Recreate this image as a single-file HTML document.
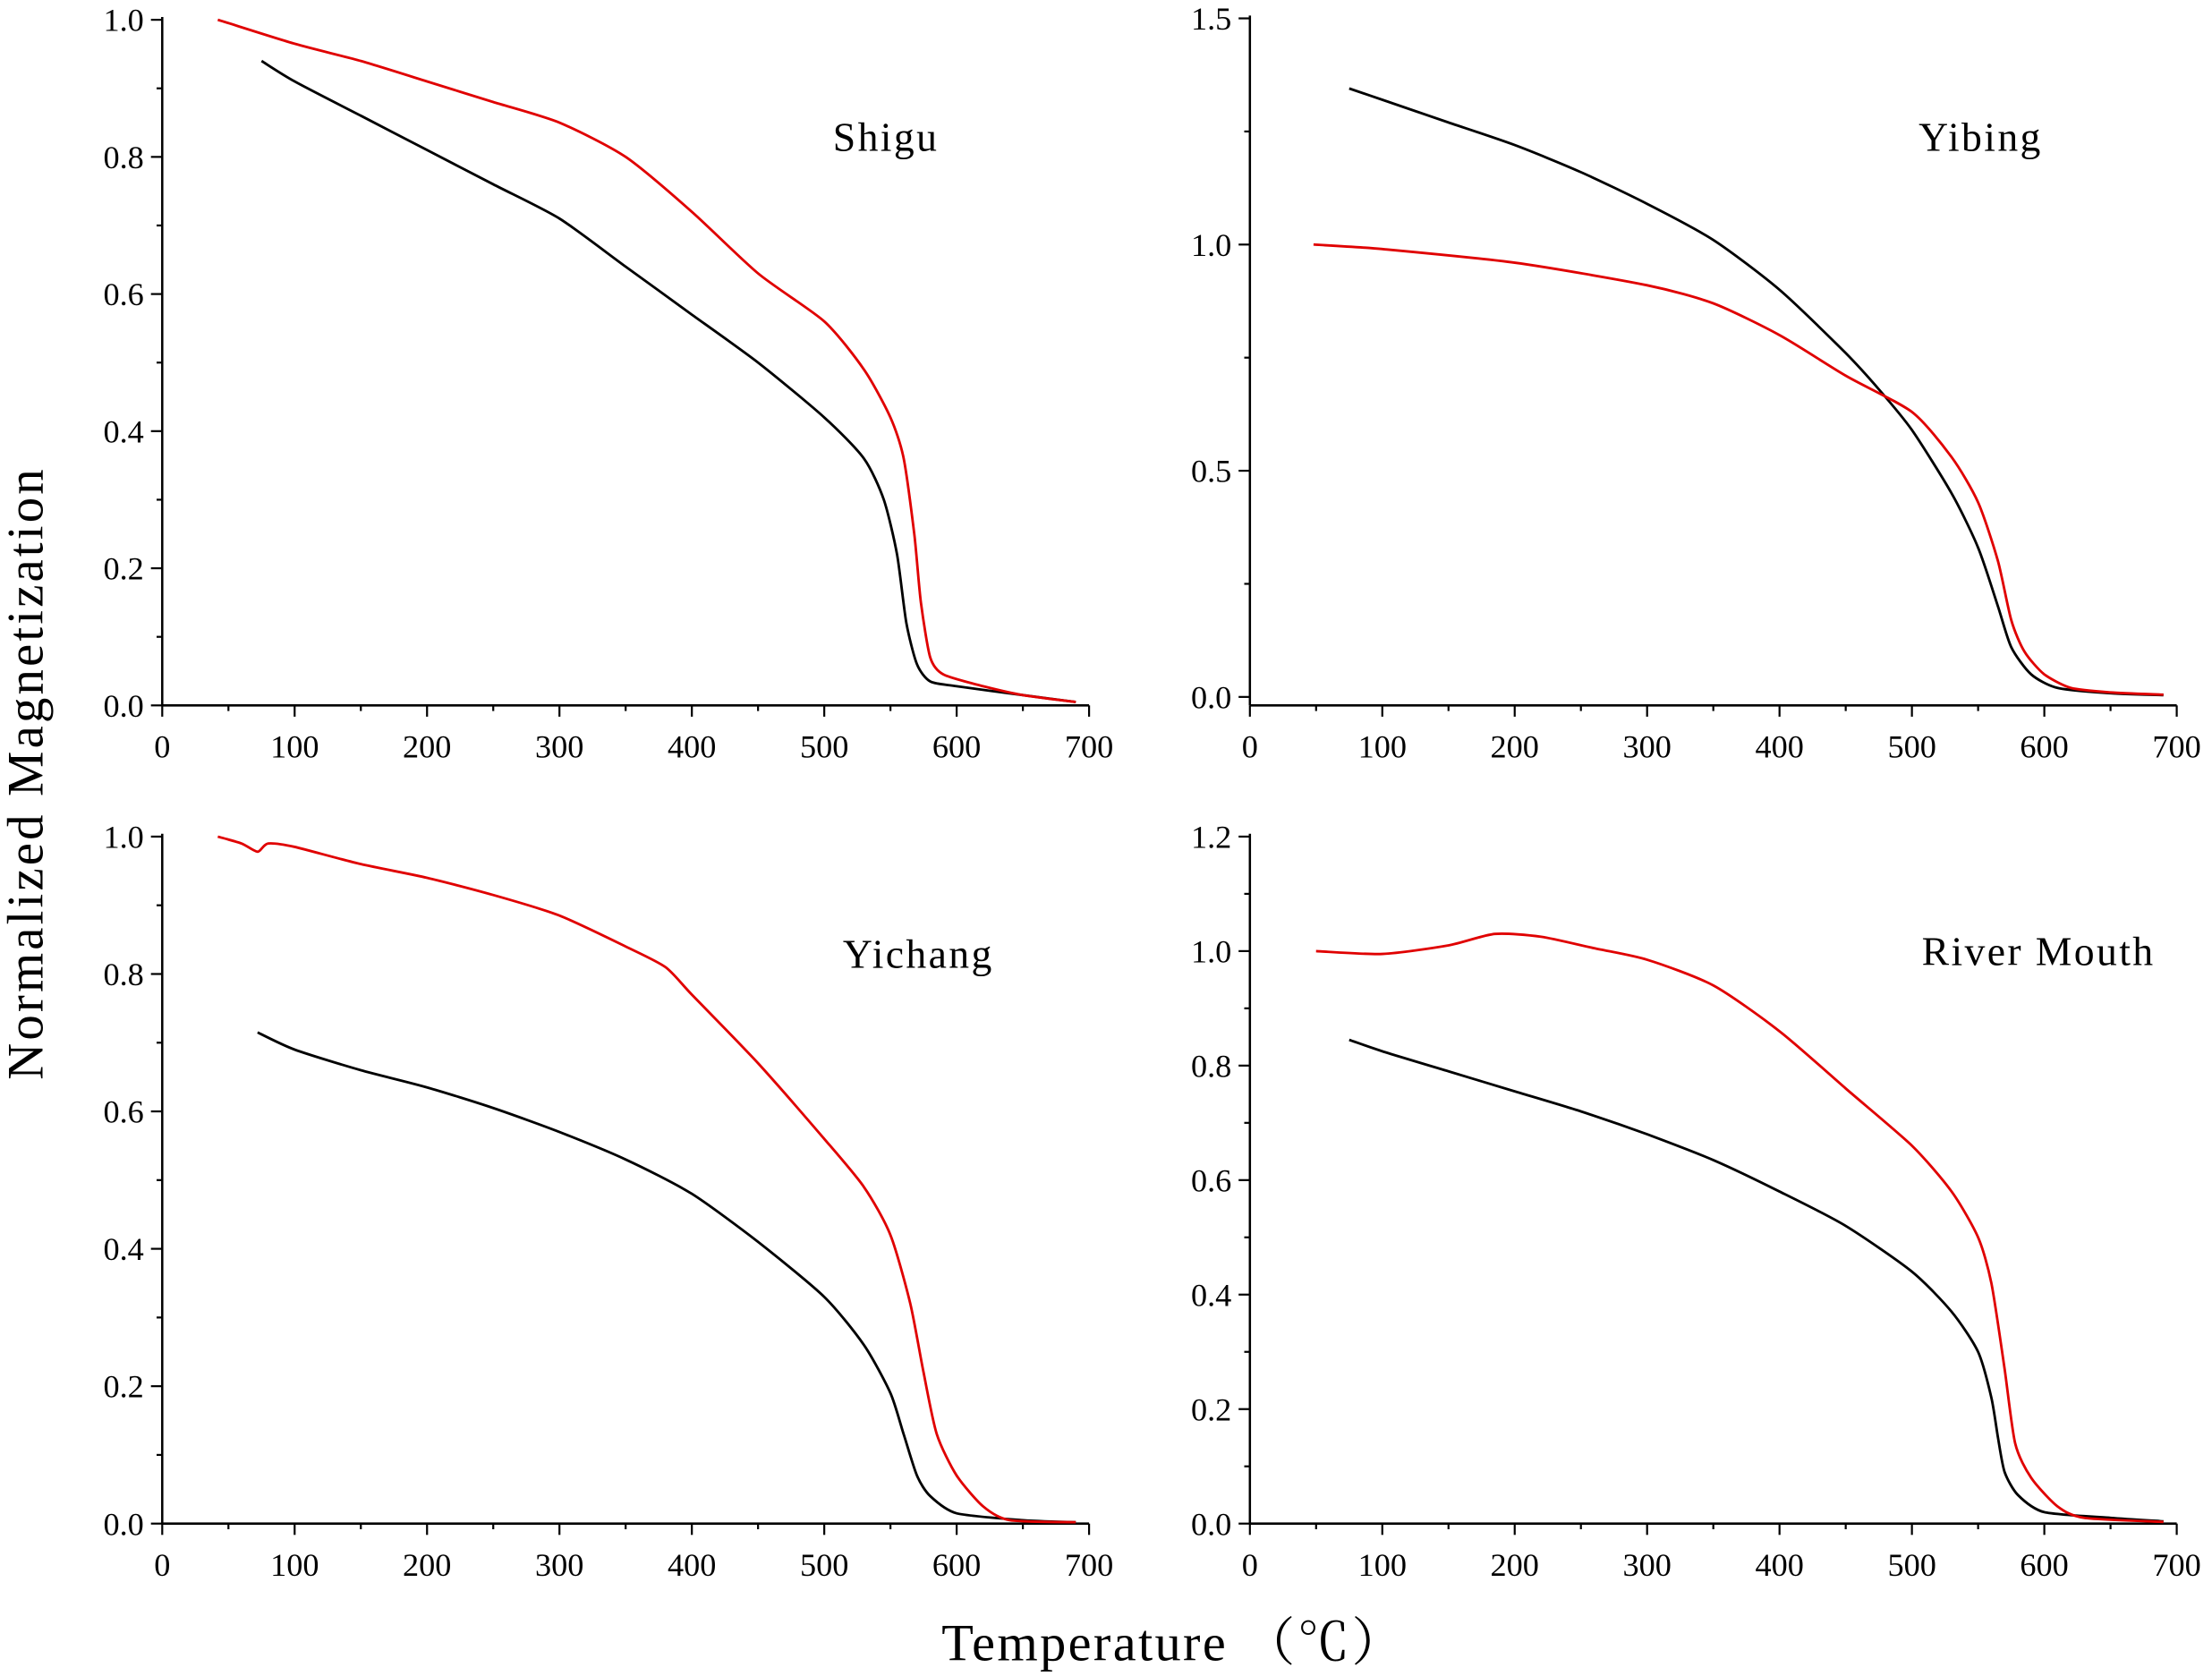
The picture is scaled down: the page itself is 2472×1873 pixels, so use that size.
<!DOCTYPE html>
<html><head><meta charset="utf-8">
<style>html,body{margin:0;padding:0;background:#fff}svg{display:block}</style>
</head><body>
<svg id="s" width="2472" height="1873" viewBox="0 0 1568 1188" xmlns="http://www.w3.org/2000/svg" font-family="'Liberation Serif', serif"></svg>
<script>
const S=document.getElementById('s');let h='';
function add(x){h+=x;}
const panels=[
 {x0:115,x1:772,y0:500,yTop:14,ymax:1.0,step:0.2,title:'Shigu',tx:628,ty:107,
  k:[[75,0.94],[100,0.91],[150,0.86],[200,0.81],[250,0.76],[300,0.71],[350,0.64],[400,0.57],[450,0.5],[500,0.42],[530,0.36],[545,0.3],[555,0.22],[562,0.12],[570,0.06],[580,0.035],[600,0.028],[650,0.015],[690,0.005]],
  r:[[42,1.0],[100,0.965],[150,0.94],[200,0.91],[250,0.88],[300,0.85],[350,0.8],[400,0.72],[450,0.63],[500,0.56],[530,0.49],[550,0.42],[560,0.36],[568,0.25],[573,0.15],[580,0.07],[590,0.045],[620,0.028],[650,0.015],[690,0.005]]},
 {x0:886,x1:1543,y0:494,yTop:13,ymax:1.5,step:0.5,title:'Yibing',tx:1404,ty:107,
  k:[[75,1.345],[100,1.32],[150,1.27],[200,1.22],[250,1.16],[300,1.09],[350,1.01],[400,0.9],[450,0.76],[475,0.68],[500,0.59],[530,0.45],[550,0.33],[565,0.2],[575,0.11],[590,0.05],[610,0.02],[650,0.008],[690,0.004]],
  r:[[48,1.0],[100,0.99],[200,0.96],[300,0.91],[350,0.87],[400,0.8],[450,0.71],[500,0.63],[530,0.53],[550,0.43],[565,0.3],[575,0.17],[585,0.1],[600,0.05],[620,0.02],[650,0.01],[690,0.005]]},
 {x0:115,x1:772,y0:1080,yTop:593,ymax:1.0,step:0.2,title:'Yichang',tx:651,ty:686,
  k:[[72,0.715],[100,0.69],[150,0.66],[200,0.635],[250,0.605],[300,0.57],[350,0.53],[400,0.48],[450,0.41],[500,0.33],[530,0.26],[550,0.19],[560,0.13],[570,0.07],[580,0.04],[600,0.015],[650,0.005],[690,0.002]],
  r:[[42,1.0],[60,0.99],[72,0.978],[80,0.99],[100,0.985],[150,0.96],[200,0.94],[250,0.915],[300,0.885],[350,0.84],[380,0.81],[400,0.77],[450,0.67],[500,0.56],[530,0.49],[550,0.42],[565,0.32],[575,0.22],[585,0.13],[600,0.07],[620,0.025],[640,0.005],[690,0.002]]},
 {x0:886,x1:1543,y0:1080,yTop:593,ymax:1.2,step:0.2,title:'River Mouth',tx:1445,ty:684,
  k:[[75,0.845],[100,0.825],[150,0.79],[200,0.755],[250,0.72],[300,0.68],[350,0.635],[400,0.58],[450,0.52],[500,0.44],[530,0.37],[550,0.3],[560,0.22],[565,0.15],[570,0.09],[580,0.05],[600,0.02],[650,0.01],[690,0.004]],
  r:[[50,1.0],[100,0.995],[150,1.01],[185,1.03],[220,1.025],[260,1.005],[300,0.985],[350,0.94],[400,0.86],[450,0.76],[500,0.66],[530,0.58],[550,0.5],[560,0.42],[570,0.27],[578,0.14],[590,0.08],[610,0.03],[630,0.01],[690,0.003]]}
];
function smooth(P){let d='M'+P[0][0].toFixed(1)+','+P[0][1].toFixed(1);const t=0.12;
 for(let i=0;i<P.length-1;i++){const p0=P[Math.max(0,i-1)],p1=P[i],p2=P[i+1],p3=P[Math.min(P.length-1,i+2)];
  const c1=[p1[0]+(p2[0]-p0[0])*t,p1[1]+(p2[1]-p0[1])*t],c2=[p2[0]-(p3[0]-p1[0])*t,p2[1]-(p3[1]-p1[1])*t];
  d+=`C${c1[0].toFixed(1)},${c1[1].toFixed(1)} ${c2[0].toFixed(1)},${c2[1].toFixed(1)} ${p2[0].toFixed(1)},${p2[1].toFixed(1)}`;}
 return d;}
panels.forEach(p=>{
 const X=t=>p.x0+(p.x1-p.x0)*t/700, Y=v=>p.y0-(p.y0-p.yTop)*v/p.ymax;
 const ax=p.y0===494?500:p.y0;
 add(`<line x1="${p.x0}" y1="${ax}" x2="${p.x1}" y2="${ax}" stroke="#000" stroke-width="1.6"/>`);
 add(`<line x1="${p.x0}" y1="${ax}" x2="${p.x0}" y2="${p.yTop-2}" stroke="#000" stroke-width="1.6"/>`);
 for(let t=0;t<=700;t+=50){const maj=t%100==0;add(`<line x1="${X(t)}" y1="${ax}" x2="${X(t)}" y2="${ax+(maj?8:4)}" stroke="#000" stroke-width="1.4"/>`);
  if(maj)add(`<text x="${X(t)}" y="${ax+37}" font-size="23" text-anchor="middle">${t}</text>`);}
 const n=Math.round(p.ymax/p.step);
 for(let i=0;i<=2*n;i++){const v=i*p.step/2,maj=i%2==0;add(`<line x1="${p.x0}" y1="${Y(v)}" x2="${p.x0-(maj?8:4)}" y2="${Y(v)}" stroke="#000" stroke-width="1.4"/>`);
  if(maj)add(`<text x="${p.x0-13}" y="${Y(v)+8}" font-size="23" text-anchor="end">${v.toFixed(1)}</text>`);}
 const pl=(d,c)=>add(`<path fill="none" stroke="${c}" stroke-width="1.8" stroke-linejoin="round" d="${smooth(d.map(q=>[X(q[0]),Y(q[1])]))}"/>`);
 pl(p.k,'#000');pl(p.r,'#e00000');
 add(`<text x="${p.tx}" y="${p.ty}" font-size="29" letter-spacing="1.5" text-anchor="middle">${p.title}</text>`);
});
add(`<text transform="translate(30,548) rotate(-90)" font-size="36" letter-spacing="2" text-anchor="middle">Normalized Magnetization</text>`);
add(`<text x="832" y="1177" font-size="37" letter-spacing="1.5" text-anchor="middle" font-family="'Liberation Serif','Noto Serif CJK SC',serif">Temperature （℃）</text>`);
S.innerHTML=h;
</script>
</body></html>
